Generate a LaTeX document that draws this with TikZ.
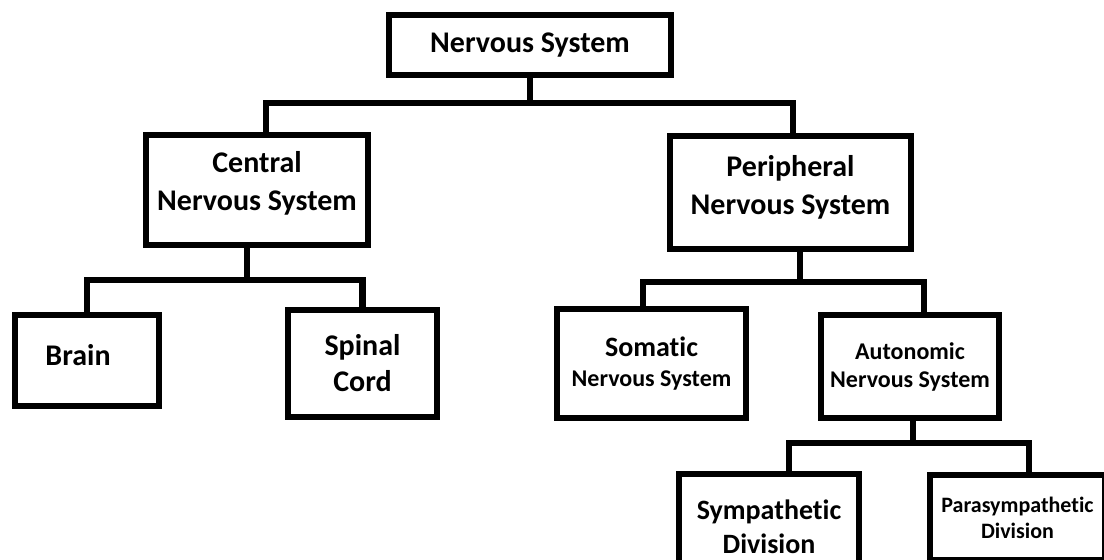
\documentclass[tikz,border=0pt]{standalone}
\usepackage{fontspec}
\setmainfont{Carlito}[Ligatures=NoCommon]

\begin{document}
\begin{tikzpicture}
  [x=0.5pt, y=-0.5pt,
    box/.style={draw, line width=3.25pt, inner sep=0pt, align=center},
    big/.style={font=\fontsize{15}{19}\selectfont\bfseries},
    mid/.style={font=\fontsize{14}{17}\selectfont\bfseries},
    small/.style={font=\fontsize{12}{14}\selectfont\bfseries},
    link/.style={line width=3.25pt},
]
  \useasboundingbox (0,0) rectangle (1104,560);

  \node[box,big,minimum width=141pt,minimum height=30pt] (top) at (530,45) {Nervous System};
  \node[box,big,minimum width=111pt,minimum height=55pt,text depth=9.5pt] (cns) at (257,190) {Central\\Nervous System};
  \node[box,big,minimum width=120.5pt,minimum height=56.5pt,text depth=8pt] (pns) at (790.5,192.5) {Peripheral\\Nervous System};
  \node[box,big,minimum width=72pt,minimum height=45.5pt,text depth=6pt] (brain) at (87,360.5) {Brain\hspace{9pt}};
  \node[box,big,minimum width=74.5pt,minimum height=53.5pt,font=\fontsize{15}{18}\selectfont\bfseries] (spinal) at (362.5,363.5) {Spinal\\Cord};
  \node[box,small,minimum width=94.5pt,minimum height=54.5pt] (somatic) at (651.5,363.5) {{\fontsize{14}{15}\selectfont Somatic}\\[1pt]Nervous System};
  \node[box,small,minimum width=89pt,minimum height=51.5pt] (auto) at (910,366.5) {Autonomic\\Nervous System};
  \node[box,mid,minimum width=90pt,minimum height=53pt] (symp) at (769,527) {Sympathetic\\Division};
  \node[box,minimum width=87.5pt,minimum height=42.5pt,font=\fontsize{11}{13}\selectfont\bfseries] (para) at (1017.5,517.5) {Parasympathetic\\Division};

  % bus lines
  \coordinate (topbus) at (530,103);
  \coordinate (cnsbus) at (247,280);
  \coordinate (pnsbus) at (800,282);
  \coordinate (autobus) at (913,443);

  \draw[link] (top.south) -- (topbus);
  \draw[link] ([xshift=4.5pt]cns.north) |- (topbus) -| ([xshift=1.25pt]pns.north);
  \draw[link] ([xshift=-5pt]cns.south) -- (cnsbus);
  \draw[link] (brain.north) |- (cnsbus) -| (spinal.north);
  \draw[link] ([xshift=4.75pt]pns.south) -- (pnsbus);
  \draw[link] ([xshift=-4.25pt]somatic.north) |- (pnsbus) -| ([xshift=7pt]auto.north);
  \draw[link] ([xshift=1.5pt]auto.south) -- (autobus);
  \draw[link] ([xshift=10pt]symp.north) |- (autobus) -| ([xshift=5.75pt]para.north);
\end{tikzpicture}
\end{document}
